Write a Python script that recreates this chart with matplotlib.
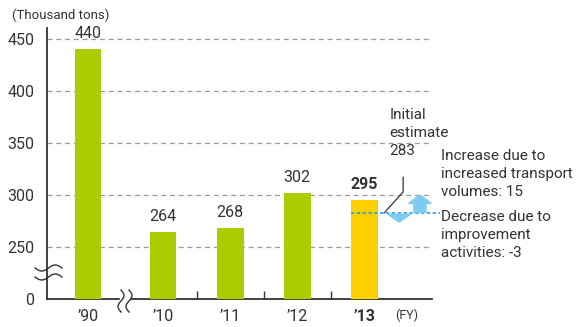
import matplotlib
matplotlib.use("Agg")
import matplotlib.pyplot as plt
import numpy as np
from matplotlib.patches import FancyArrow, Polygon

plt.rcParams['font.family'] = ['Roboto', 'DejaVu Sans']

categories = ["’90", "’10", "’11", "’12", "’13"]
values = [440, 264, 268, 302, 295]
colors = ["#aacc00", "#aacc00", "#aacc00", "#aacc00", "#fdd000"]
initial_estimate = 283
increase = 15
decrease = -3
yticks = [200, 250, 300, 350, 400, 450]
yticklabels = ["0", "250", "300", "350", "400", "450"]
BASE = 200  # value drawn at the axis baseline (axis is broken)

fig = plt.figure(figsize=(5.76, 3.27), dpi=100)
ax = fig.add_axes([47/576, 28/327, (432-47)/576, (299-28)/327])

gap = 0.12
xpos = np.array([0, 1 + gap, 2 + gap, 3 + gap, 4 + gap])
heights = [v - BASE for v in values]
ax.bar(xpos, heights, bottom=BASE, width=0.40, color=colors, zorder=3)

ax.set_xlim(-0.61, 5.13)
ax.set_ylim(BASE, 460.6)

for y in yticks[1:]:
    ax.axhline(y, color="#9a9a9a", lw=0.9, ls=(0, (4, 3)), zorder=1)

ax.set_yticks(yticks)
ax.set_yticklabels(yticklabels, fontsize=11.5, color="#333333")
ax.tick_params(axis='y', length=0, pad=9)
ax.set_xticks(xpos)
ax.set_xticklabels(categories, fontsize=11.5, color="#333333")
ax.get_xticklabels()[-1].set_fontweight("bold")
ax.tick_params(axis='x', length=0, pad=7)
ax.set_xticks((xpos[1:-1] + xpos[2:]) / 2, minor=True)
ax.tick_params(axis='x', which='minor', direction='in', length=6, width=1, color="#333333")

for s in ["top", "right"]:
    ax.spines[s].set_visible(False)
for s in ["left", "bottom"]:
    ax.spines[s].set_color("#333333")
    ax.spines[s].set_linewidth(1.3)

for i, (x, v) in enumerate(zip(xpos, values)):
    ax.text(x, v + 8, str(v), ha="center", va="bottom", fontsize=11.5, color="#333333",
            fontweight="bold" if i == len(values) - 1 else "normal")

# initial estimate line
x13 = xpos[-1]
ax.plot([x13 - 0.2, 5.25], [initial_estimate, initial_estimate], color="#1aa0e0",
        lw=1.2, ls=(0, (2, 1.5)), zorder=4, clip_on=False)
# leader line
ax.plot([x13 + 0.3, x13 + 0.58, x13 + 0.58],
        [initial_estimate, initial_estimate + 20, initial_estimate + 34],
        color="#333333", lw=0.9, zorder=5)
ax.text(x13 + 0.38, 384, "Initial\nestimate\n" + str(initial_estimate), ha="left", va="top",
        fontsize=11, color="#333333", linespacing=1.4)

# arrows
arrow_col = "#7ecbf2"
xd = x13 + 0.52
ax.add_patch(Polygon([[xd - 0.17, initial_estimate - 1.5], [xd + 0.17, initial_estimate - 1.5],
                      [xd, initial_estimate + decrease * 3.0]], closed=True,
                     color=arrow_col, zorder=4))
xu = x13 + 0.83
ax.add_patch(FancyArrow(xu, initial_estimate + 0.5, 0, increase * 1.1, width=0.18,
                        head_width=0.34, head_length=8, length_includes_head=True,
                        color=arrow_col, zorder=4, clip_on=False))

fig.text(441/576, 1 - 149/327, "Increase due to\nincreased transport\nvolumes: " + str(increase),
         ha="left", va="top", fontsize=11, color="#333333", linespacing=1.35)
fig.text(441/576, 1 - 210/327, "Decrease due to\nimprovement\nactivities: " + str(decrease),
         ha="left", va="top", fontsize=11, color="#333333", linespacing=1.35)

fig.text(12/576, 1 - 15/327, "(Thousand tons)", ha="left", va="center", fontsize=9.5, color="#333333")
fig.text(395/576, 1 - 315/327, "(FY)", ha="left", va="center", fontsize=9, color="#333333")

# break marks
t = np.linspace(0, 1, 50)
# y-axis break
for dy in [0, 9]:
    xs = 35 + t * 27
    ys = 327 - (268 + dy) - 3 * np.sin(t * 2 * np.pi)
    fig.add_artist(plt.Line2D(xs / 576, ys / 327, color="#333333", lw=1.0, zorder=10))
# x-axis break
fig.add_artist(plt.Rectangle(((120) / 576, (327 - 301) / 327), 9 / 576, 4 / 327,
                             color="white", zorder=9, transform=fig.transFigure))
for dx in [0, 8]:
    ys = 290 + t * 22
    xs = 121 + dx + 3 * np.sin(t * 2 * np.pi)
    fig.add_artist(plt.Line2D(xs / 576, (327 - ys) / 327, color="#333333", lw=1.0, zorder=10))

fig.savefig("out.png", dpi=100)
